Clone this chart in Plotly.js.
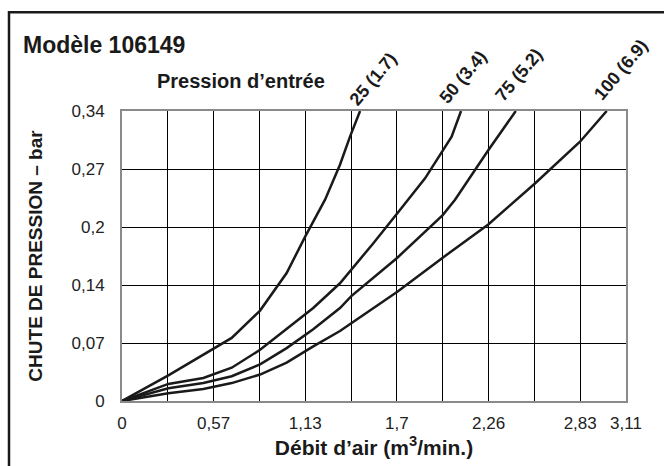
<!DOCTYPE html>
<html>
<head>
<meta charset="utf-8">
<script src="https://cdn.plot.ly/plotly-3.0.1.min.js"></script>
<style>html,body{margin:0;padding:0;background:#fff;}#chart{width:664px;height:466px;}</style>
</head>
<body>
<div id="chart"></div>
<script>
// Débit d'air (m3/min) and chute de pression (bar) for each inlet pressure
const flow25  = [0, 0.286, 0.677, 0.852, 1.016, 1.131, 1.253, 1.345, 1.407, 1.469];
const drop25  = [0, 0.030, 0.074, 0.106, 0.150, 0.193, 0.236, 0.277, 0.310, 0.340];
const flow50  = [0, 0.286, 0.502, 0.677, 0.852, 1.016, 1.180, 1.345, 1.551, 1.715, 1.870, 2.034, 2.055, 2.092];
const drop50  = [0, 0.020, 0.027, 0.039, 0.060, 0.084, 0.109, 0.138, 0.185, 0.224, 0.261, 0.310, 0.320, 0.340];
const flow75  = [0, 0.286, 0.502, 0.677, 0.852, 1.016, 1.180, 1.345, 1.415, 1.699, 1.979, 2.055, 2.260, 2.430];
const drop75  = [0, 0.015, 0.021, 0.029, 0.043, 0.062, 0.084, 0.109, 0.123, 0.168, 0.218, 0.236, 0.294, 0.340];
const flow100 = [0, 0.286, 0.502, 0.677, 0.852, 1.016, 1.180, 1.345, 1.699, 1.979, 2.260, 2.548, 2.826, 2.991];
const drop100 = [0, 0.009, 0.014, 0.021, 0.031, 0.045, 0.064, 0.082, 0.128, 0.168, 0.207, 0.255, 0.304, 0.340];

const seriesLabels = ["25 (1.7)", "50 (3.4)", "75 (5.2)", "100 (6.9)"];

const xMax = 3.11;
const yMax = 0.34;
const xGridCount = 11;
const xTickText = ["0", "0,57", "1,13", "1,7", "2,26", "2,83", "3,11"];
const xTickSteps = [0, 2, 4, 6, 8, 10, 11];
const yTickText = ["0", "0,07", "0,14", "0,2", "0,27", "0,34"];
const xGridVals = Array.from({length: xGridCount + 1}, (_, i) => i * xMax / xGridCount);
const xTickVals = xTickSteps.map(k => xGridVals[k]);
const yTickVals = yTickText.map((_, i) => i * yMax / (yTickText.length - 1));

const FONT = '"Liberation Sans", Arial, Helvetica, sans-serif';
const INK = '#1a1a1a';
const series = [[flow25, drop25], [flow50, drop50], [flow75, drop75], [flow100, drop100]];

const traces = series.map((s, i) => ({
  x: s[0], y: s[1], type: 'scatter', mode: 'lines', name: seriesLabels[i],
  line: {color: INK, width: 2.5}, hoverinfo: 'skip'
}));

const labelShift = [[13, 32], [2, 34], [3, 36], [14, 41]];
const annotations = series.map((s, i) => ({
  x: s[0][s[0].length - 1], y: s[1][s[1].length - 1], xref: 'x', yref: 'y',
  text: '<b>' + seriesLabels[i] + '</b>', showarrow: false, textangle: -50,
  xanchor: 'center', yanchor: 'middle', xshift: labelShift[i][0], yshift: labelShift[i][1],
  font: {family: FONT, size: 18, color: INK}
}));
annotations.push({
  xref: 'paper', yref: 'paper', x: 0.236, y: 1.105, xanchor: 'center', yanchor: 'middle',
  text: '<b>Pression d’entrée</b>', showarrow: false,
  font: {family: FONT, size: 20, color: INK}
});

const gridStyle = {showgrid: true, gridcolor: '#000', gridwidth: 1};

const layout = {
  width: 664, height: 466,
  margin: {l: 122, r: 38, t: 111, b: 64.5, pad: 0},
  paper_bgcolor: '#fff', plot_bgcolor: '#fff',
  showlegend: false,
  title: {text: '<b>Modèle 106149</b>', x: 23 / 664, xanchor: 'left', xref: 'container',
          y: 1 - 45 / 466, yanchor: 'middle', yref: 'container',
          font: {family: FONT, size: 23, color: INK}},
  xaxis: {
    range: [0, xMax], tickmode: 'array', tickvals: xTickVals, ticktext: xTickText, ticks: '',
    showgrid: false,
    minor: Object.assign({tickmode: 'array', tickvals: xGridVals, ticks: ''}, gridStyle),
    zeroline: false,
    showline: true, mirror: true, linecolor: '#8a8a8a', linewidth: 2,
    tickfont: {family: FONT, size: 17, color: '#222'}, ticklabelstandoff: 6,
    title: {text: '<b>Débit d’air (m<sup>3</sup>/min.)</b>', standoff: 8,
            font: {family: FONT, size: 21, color: INK}},
    fixedrange: true
  },
  yaxis: Object.assign({
    range: [0, yMax], tickmode: 'array', tickvals: yTickVals, ticktext: yTickText, ticks: '',
    zeroline: false,
    showline: true, mirror: true, linecolor: '#8a8a8a', linewidth: 2,
    tickfont: {family: FONT, size: 17, color: '#222'}, ticklabelstandoff: 12,
    title: {text: '<b>CHUTE DE PRESSION – bar</b>', standoff: 24,
            font: {family: FONT, size: 19, color: INK}},
    fixedrange: true
  }, gridStyle),
  annotations: annotations,
  shapes: [{
    type: 'rect', xref: 'paper', yref: 'paper', layer: 'below',
    x0: (9 - 122) / 504, x1: (680 - 122) / 504,
    y0: (401.5 - 480) / 290.5, y1: (401.5 - 12) / 290.5,
    line: {color: INK, width: 2.5}
  }]
};

Plotly.newPlot('chart', traces, layout, {displayModeBar: false, staticPlot: true});
</script>
</body>
</html>
